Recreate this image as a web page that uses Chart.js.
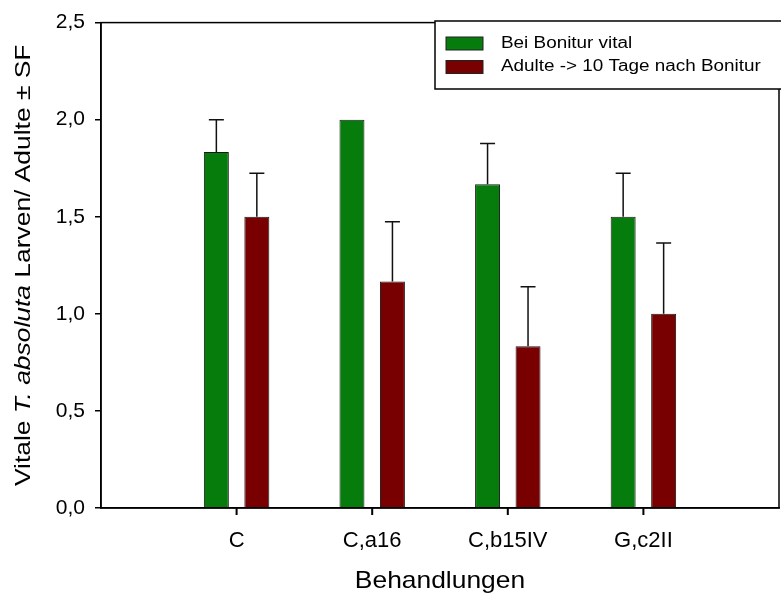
<!DOCTYPE html>
<html>
<head>
<meta charset="utf-8">
<title>Behandlungen</title>
<script src="https://cdn.jsdelivr.net/npm/chart.js@4/dist/chart.umd.min.js"></script>
<style>
  html, body { margin: 0; padding: 0; background: #fff; }
  #wrap { width: 781px; height: 594px; }
</style>
</head>
<body>
<div id="wrap"><canvas id="myChart" width="781" height="594"></canvas></div>
<script>
// empty slots at both ends keep the groups off the axes
const treatments = ['', 'C', 'C,a16', 'C,b15IV', 'G,c2II', '']
const vitalMeans = [null, 1.833, 2.0, 1.667, 1.5, null]
const vitalErr = [0, 0.167, 0, 0.21, 0.224, 0]
const adultMeans = [null, 1.5, 1.167, 0.833, 1.0, null]
const adultErr = [0, 0.224, 0.307, 0.307, 0.365, 0]
const yTicks = [0, 0.5, 1.0, 1.5, 2.0, 2.5]

const seriesNames = ['Bei Bonitur vital', 'Adulte -> 10 Tage nach Bonitur']
const green = '#067c0c'
const darkRed = '#780000'
const FONT = '"Liberation Sans", Arial, sans-serif'

const errors = [vitalErr, adultErr]

// upward error bars (mean + SE) on top of each bar
const errorBars = {
  id: 'errorBars',
  afterDatasetsDraw(chart) {
    const ctx = chart.ctx
    const yScale = chart.scales.y
    ctx.save()
    ctx.strokeStyle = '#111'
    ctx.lineWidth = 1.5
    chart.data.datasets.forEach((ds, di) => {
      const meta = chart.getDatasetMeta(di)
      meta.data.forEach((bar, i) => {
        const v = ds.data[i]
        const e = errors[di][i]
        if (v == null || !e) return
        const top = yScale.getPixelForValue(v + e)
        ctx.beginPath()
        ctx.moveTo(bar.x, bar.y)
        ctx.lineTo(bar.x, top)
        ctx.moveTo(bar.x - 7.5, top)
        ctx.lineTo(bar.x + 7.5, top)
        ctx.stroke()
      })
    })
    ctx.restore()
  }
}

// box round the plot, x tick marks, y title with italic species name, legend in the corner
const decorations = {
  id: 'decorations',
  afterDraw(chart) {
    const ctx = chart.ctx
    const a = chart.chartArea
    const xScale = chart.scales.x
    ctx.save()
    ctx.strokeStyle = '#000'
    ctx.lineWidth = 1.5
    ctx.strokeRect(a.left, a.top, a.right - a.left, a.bottom - a.top)

    // tick marks under the named treatments only
    ctx.lineWidth = 2
    ctx.beginPath()
    treatments.forEach((t, i) => {
      if (!t) return
      const px = xScale.getPixelForValue(i)
      ctx.moveTo(px, a.bottom)
      ctx.lineTo(px, a.bottom + 7)
    })
    ctx.stroke()
    ctx.lineWidth = 1.5

    // y title
    const parts = [
      ['Vitale ', 'normal'],
      ['T. absoluta', 'italic'],
      [' Larven/ Adulte \u00b1 SF', 'normal']
    ]
    const size = 22
    const stretch = 1.2
    let total = 0
    parts.forEach(p => {
      ctx.font = p[1] + ' ' + size + 'px ' + FONT
      total += ctx.measureText(p[0]).width
    })
    ctx.translate(24, (a.top + a.bottom) / 2)
    ctx.rotate(-Math.PI / 2)
    ctx.scale(stretch, 1)
    ctx.fillStyle = '#000'
    ctx.textBaseline = 'middle'
    let x = -total / 2
    parts.forEach(p => {
      ctx.font = p[1] + ' ' + size + 'px ' + FONT
      ctx.fillText(p[0], x, 0)
      x += ctx.measureText(p[0]).width
    })
    ctx.setTransform(1, 0, 0, 1, 0, 0)

    // x title
    ctx.font = '24px ' + FONT
    ctx.textAlign = 'center'
    ctx.textBaseline = 'middle'
    ctx.save()
    ctx.translate((a.left + a.right) / 2, 581)
    ctx.scale(1.1, 1)
    ctx.fillText('Behandlungen', 0, 0)
    ctx.restore()

    // legend
    ctx.fillStyle = '#fff'
    ctx.fillRect(435, 21, 350, 68)
    ctx.strokeRect(435, 21, 350, 68)
    const swatches = [green, darkRed]
    ctx.font = '16px ' + FONT
    ctx.textAlign = 'left'
    seriesNames.forEach((name, i) => {
      const cy = 43.5 + i * 23.5
      ctx.fillStyle = swatches[i]
      ctx.fillRect(446, cy - 6.5, 37, 13)
      ctx.lineWidth = 1
      ctx.strokeStyle = '#222'
      ctx.strokeRect(446, cy - 6.5, 37, 13)
      ctx.fillStyle = '#000'
      ctx.save()
      ctx.translate(501, cy)
      ctx.scale(1.18, 1)
      ctx.fillText(name, 0, 0)
      ctx.restore()
    })
    ctx.restore()
  }
}

var ctx = document.getElementById('myChart').getContext('2d');
var chart = new Chart(ctx, {
  type: 'bar',
  data: {
    labels: treatments,
    datasets: [{
      label: seriesNames[0],
      data: vitalMeans,
      backgroundColor: green,
      borderColor: '#1a1a1a',
      borderWidth: 1
    }, {
      label: seriesNames[1],
      data: adultMeans,
      backgroundColor: darkRed,
      borderColor: '#1a1a1a',
      borderWidth: 1
    }]
  },
  options: {
    responsive: false,
    animation: false,
    layout: { padding: { top: 21, right: 2, left: 0, bottom: 0 } },
    datasets: {
      bar: { categoryPercentage: 0.597, barPercentage: 0.617 }
    },
    plugins: {
      legend: { display: false },
      tooltip: { enabled: false }
    },
    scales: {
      x: {
        offset: false,
        grid: { display: false },
        border: { color: '#000', width: 1.5 },
        ticks: {
          color: '#000',
          padding: 12,
          maxRotation: 0,
          autoSkip: false,
          font: { family: FONT, size: 22 }
        },
        afterFit: s => {
          s.height = 86
          s.paddingLeft = 0
          s.paddingRight = 0
        }
      },
      y: {
        min: 0,
        max: 2.5,
        afterBuildTicks: s => { s.ticks = yTicks.map(v => ({ value: v })) },
        grid: { drawOnChartArea: false, tickLength: 6, color: '#000', lineWidth: 1.5 },
        border: { color: '#000', width: 1.5 },
        ticks: {
          color: '#000',
          padding: 10,
          font: { family: FONT, size: 21 },
          callback: v => v.toFixed(1).replace('.', ',')
        },
        afterFit: s => { s.width = 101 }
      }
    }
  },
  plugins: [errorBars, decorations]
});
</script>
</body>
</html>
